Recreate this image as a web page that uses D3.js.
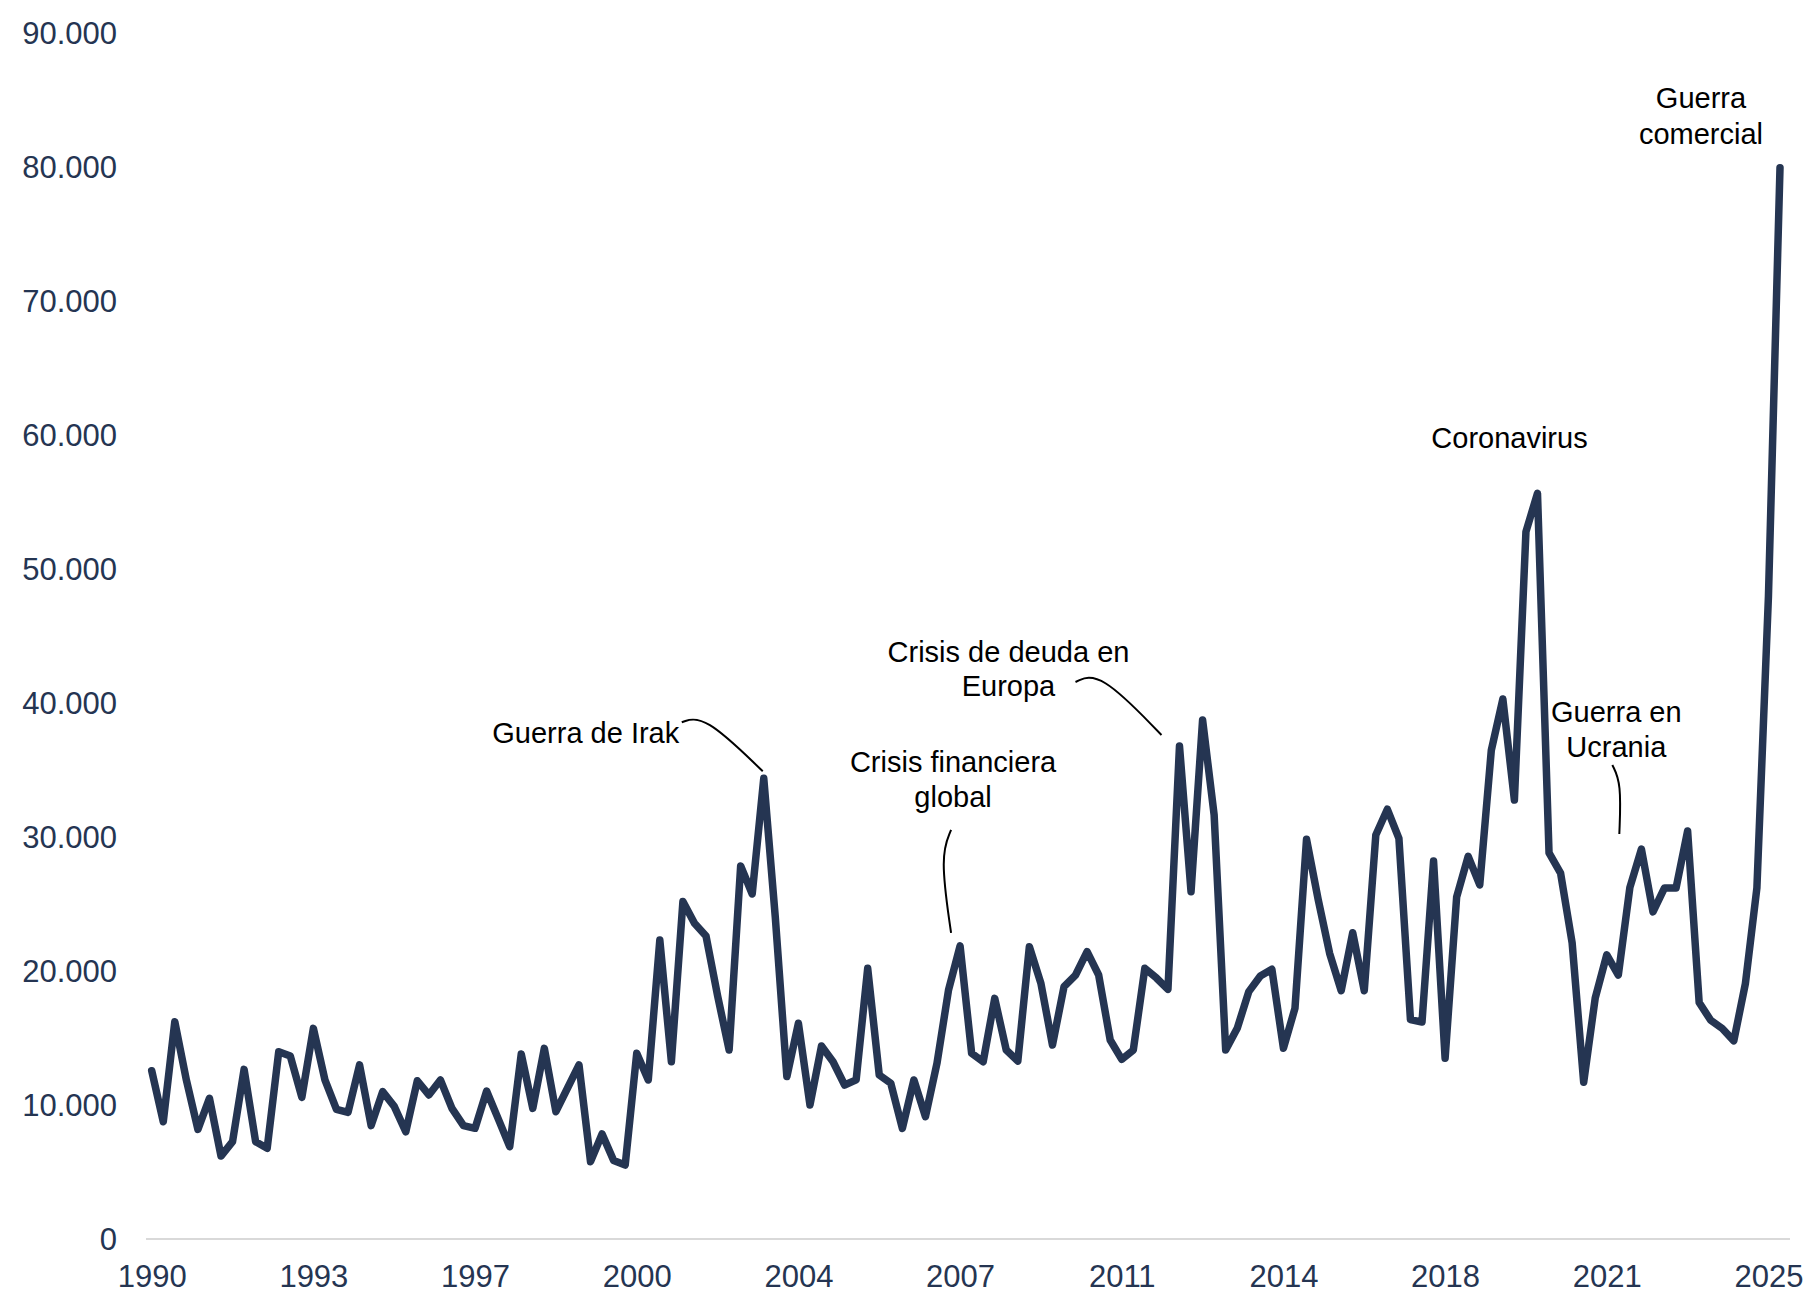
<!DOCTYPE html>
<html lang="es">
<head>
    <meta charset="UTF-8">
    <title>Incertidumbre</title>
    <style>
        html, body { margin: 0; padding: 0; background: #fff; }
        svg { display: block; }
        text { font-family: "Liberation Sans", Arial, sans-serif; }
    </style>
</head>
<body>
    <div id="target"></div>

    <script src="https://d3js.org/d3.v7.min.js"></script>
    <script>
        // quarterly series, 1990T1 .. 2025T2
        const firstYear = 1990;
        const values = [
            12560, 8750, 16220, 11870, 8180, 10500, 6190, 7260, 12660, 7260,
            6770, 13980, 13660, 10570, 15720, 11870, 9680, 9450, 12990, 8460,
            11000, 9900, 8000, 11810, 10750, 11870, 9750, 8460, 8260, 11040,
            8980, 6890, 13810, 9750, 14230, 9500, 11250, 12990, 5770, 7840,
            5850, 5520, 13860, 11870, 22310, 13230, 25180, 23560, 22610, 18160,
            14100, 27840, 25750, 34380, 24000, 12120, 16100, 10000, 14400, 13230,
            11490, 11870, 20200, 12240, 11620, 8260, 11870, 9130, 13110, 18580,
            21870, 13860, 13230, 17960, 14100, 13280, 21810, 19080, 14480, 18830,
            19700, 21440, 19700, 14850, 13410, 14100, 20200, 19480, 18630, 36790,
            25920, 38730, 31640, 14100, 15720, 18460, 19630, 20130, 14230, 17220,
            29830, 25370, 21320, 18530, 22860, 18530, 30150, 32070, 29900, 16370,
            16190, 28210, 13490, 25520, 28560, 26420, 36460, 40300, 32760, 52780,
            55650, 28810, 27310, 22100, 11700, 17990, 21210, 19700, 26230, 29100,
            24410, 26200, 26200, 30450, 17650, 16320, 15710, 14790, 19040, 26200,
            47980, 79950
        ];
        const quarters = values.map((v, i) => (firstYear + Math.floor(i / 4)) + "T" + (i % 4 + 1));

        const tickQuarters = ["1990T1", "1993T3", "1997T1", "2000T3", "2004T1", "2007T3",
            "2011T1", "2014T3", "2018T1", "2021T3", "2025T1"];
        const tickLabels = ["1990", "1993", "1997", "2000", "2004", "2007",
            "2011", "2014", "2018", "2021", "2025"];
        const yTicks = [0, 10000, 20000, 30000, 40000, 50000, 60000, 70000, 80000, 90000];

        // annotations: text lines + the quarter/value they point at
        const notes = [
            { lines: ["Guerra de Irak"], q: "2003T2", v: 34380 },
            { lines: ["Crisis financiera", "global"], q: "2007T3", v: 21870 },
            { lines: ["Crisis de deuda en", "Europa"], q: "2012T2", v: 36790 },
            { lines: ["Coronavirus"], q: "2020T1", v: 55650 },
            { lines: ["Guerra en", "Ucrania"], q: "2021T4", v: 30300 },
            { lines: ["Guerra", "comercial"], q: "2025T2", v: 79950 }
        ];
        // layout for each note (px offsets from its anchor point)
        const noteLayout = [
            { dx: -178, dy: [-35], path: [[-82, -56], [-60, -64], [-1, -7]] },
            { dx: -7, dy: [-174, -139], path: [[-9, -116], [-20, -90], [-9, -13]] },
            { dx: -171, dy: [-84, -50], path: [[-104, -64], [-80, -75], [-18, -11]] },
            { dx: -28, dy: [-45], path: null },
            { dx: -2, dy: [-111, -76], path: [[-6, -68], [3, -50], [1, 1]] },
            { dx: -79, dy: [-60, -24], path: null }
        ];

        const width = 1811;
        const height = 1293;
        const ink = "#253552";

        const svg = d3.select("#target")
            .append("svg")
            .attr("width", width)
            .attr("height", height);

        svg.append("rect").attr("width", width).attr("height", height).attr("fill", "#fff");

        const x = d3.scalePoint()
            .domain(quarters)
            .range([151.7, 1780]);

        const y = d3.scaleLinear()
            .domain([0, 90000])
            .range([1239, 33]);

        const es = d3.formatLocale({ decimal: ",", thousands: ".", grouping: [3], currency: ["", " €"] });
        const fmt = es.format(",.0f");

        // baseline
        svg.append("line")
            .attr("x1", 146).attr("x2", 1790)
            .attr("y1", y(0)).attr("y2", y(0))
            .attr("stroke", "#d9d9d9")
            .attr("stroke-width", 2);

        // y axis (labels only)
        const yAxis = d3.axisLeft(y).tickValues(yTicks).tickFormat(fmt).tickSize(0).tickPadding(0);
        const gy = svg.append("g").attr("transform", "translate(117,0)").call(yAxis);
        gy.select(".domain").remove();
        gy.selectAll("text")
            .attr("fill", ink)
            .attr("font-size", 31)
            .attr("font-family", "Liberation Sans, Arial, sans-serif")
            .attr("dy", "0.33em");

        // x axis (labels only)
        const xAxis = d3.axisBottom(x)
            .tickValues(tickQuarters)
            .tickFormat((d, i) => tickLabels[i])
            .tickSize(0).tickPadding(0);
        const gx = svg.append("g").attr("transform", "translate(0,1287)").call(xAxis);
        gx.select(".domain").remove();
        gx.selectAll("text")
            .attr("fill", ink)
            .attr("font-size", 31)
            .attr("font-family", "Liberation Sans, Arial, sans-serif")
            .attr("dy", 0)
            .attr("y", 0);

        // series line
        const line = d3.line()
            .x((d, i) => x(quarters[i]))
            .y(d => y(d));

        svg.append("path")
            .datum(values)
            .attr("fill", "none")
            .attr("stroke", ink)
            .attr("stroke-width", 7.5)
            .attr("stroke-linejoin", "round")
            .attr("stroke-linecap", "round")
            .attr("d", line);

        // annotations
        const curve = d3.line().curve(d3.curveBasis);
        notes.forEach((n, k) => {
            const L = noteLayout[k];
            const px = x(n.q), py = y(n.v);
            const g = svg.append("g").attr("class", "note");
            n.lines.forEach((t, j) => {
                g.append("text")
                    .attr("x", px + L.dx)
                    .attr("y", py + L.dy[j])
                    .attr("text-anchor", "middle")
                    .attr("font-size", 29)
                    .attr("fill", "#000")
                    .text(t);
            });
            if (L.path) {
                g.append("path")
                    .attr("d", curve(L.path.map(p => [px + p[0], py + p[1]])))
                    .attr("fill", "none")
                    .attr("stroke", "#000")
                    .attr("stroke-width", 2);
            }
        });
    </script>
</body>
</html>
